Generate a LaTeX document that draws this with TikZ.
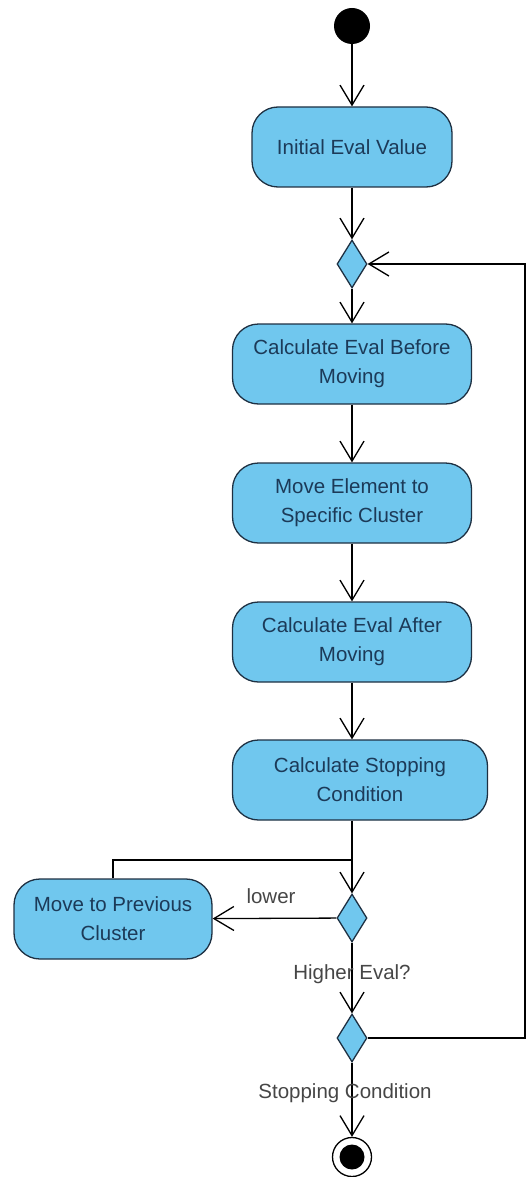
\documentclass[tikz,border=0pt]{standalone}
\usepackage{fontspec}
\setmainfont{Liberation Sans}
\usetikzlibrary{shapes.geometric,arrows.meta}

\definecolor{actfill}{RGB}{112,199,238}
\definecolor{actline}{RGB}{30,48,66}
\definecolor{acttext}{RGB}{28,58,88}
\definecolor{labtext}{RGB}{70,70,70}

\begin{document}
\begin{tikzpicture}[x=1pt,y=-1pt,
  every node/.style={font=\fontsize{20.5}{29}\selectfont},
  action/.style={draw=actline, line width=1.3pt, fill=actfill, rounded corners=26pt,
    text=acttext, align=center, inner sep=0pt, minimum height=80pt},
  decision/.style={diamond, draw=actline, line width=1.3pt, fill=actfill,
    minimum width=30pt, minimum height=48pt, inner sep=0pt},
  flow/.style={line width=1.3pt, -{Straight Barb[length=20pt,width=24pt,line width=1.3pt]}},
  link/.style={line width=1.3pt},
  guard/.style={text=labtext, inner sep=0pt}]

\useasboundingbox (0,0) rectangle (527,1177);

% initial and final nodes
\node[circle, fill=black, minimum size=36pt, inner sep=0pt] (start) at (352,26) {};
\node[circle, draw=black, line width=1.3pt, fill=white, minimum size=39pt, inner sep=0pt] (final) at (352,1157) {};
\fill[black] (final.center) circle (12.5pt);

% actions
\node[action, minimum width=200pt] (init) at (352,147) {Initial Eval Value};
\node[action, minimum width=239pt] (before) at (352,364) {Calculate Eval Before\\Moving};
\node[action, minimum width=239pt] (move) at (352,503) {Move Element to\\Specific Cluster};
\node[action, minimum width=239pt] (after) at (352,642) {Calculate Eval After\\Moving};
\node[action, minimum width=255pt] (stopc) at (360,780) {Calculate Stopping\\Condition};
\node[action, minimum width=198pt] (prev) at (113,919) {Move to Previous\\Cluster};

% decisions / merges
\node[decision] (merge) at (352,264) {};
\node[decision] (higher) at (352,918) {};
\node[decision] (stopd) at (352,1038) {};

% join point above the evaluation decision
\coordinate (join) at (352,860);
\coordinate (loopA) at (525,1038);
\coordinate (loopB) at (525,264);

% main flow
\draw[flow] (start) -- (init);
\draw[flow] (init) -- (merge);
\draw[flow] (merge) -- (before);
\draw[flow] (before) -- (move);
\draw[flow] (move) -- (after);
\draw[flow] (after) -- (stopc.north -| after);
\draw[link] (stopc.south -| higher) -- (join);
\draw[flow] (join) -- (higher);
\draw[link] (prev.north) |- (join);
\draw[flow] (higher) -- (prev);
\draw[flow] (higher) -- (stopd);
\draw[flow] (stopd) -- (final);
\draw[flow] (stopd.east) -- (loopA) -- (loopB) -- (merge.east);

% guards
\node[guard] (lowlab) at (271,896) {lower};
\node[guard] (higherlab) at (352,974) {Higher Eval?};
\node[guard] (stoplab) at (345,1093) {Stopping Condition};

\end{tikzpicture}
\end{document}
